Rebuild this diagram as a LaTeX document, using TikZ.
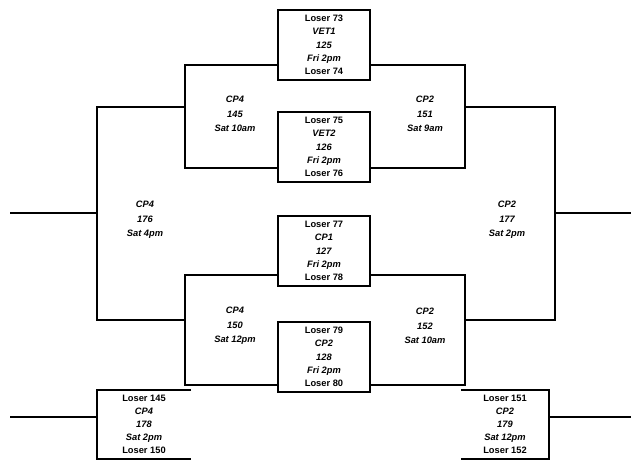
\documentclass[tikz,border=0pt]{standalone}
\usepackage{fontspec}
\setmainfont{Liberation Sans}
\begin{document}
\begin{tikzpicture}[x=1pt, y=-1pt, line width=2pt,
  game/.style={draw, rectangle, minimum width=92pt, minimum height=70pt, align=center, inner sep=0pt, font=\fontsize{9.3}{13.3}\selectfont\bfseries},
  open/.style={rectangle, minimum height=67pt, align=center, inner sep=0pt, font=\fontsize{9.3}{13}\selectfont\bfseries},
  slot/.style={align=center, inner sep=0pt, font=\fontsize{9.3}{14.5}\selectfont\bfseries\itshape}]
\useasboundingbox (0,0) rectangle (631,470);
\node[game] (g125) at (324,45){Loser 73\\ \textit{VET1}\\ \textit{125}\\ \textit{Fri 2pm}\\ Loser 74};
\node[game] (g126) at (324,147){Loser 75\\ \textit{VET2}\\ \textit{126}\\ \textit{Fri 2pm}\\ Loser 76};
\node[game] (g127) at (324,251){Loser 77\\ \textit{CP1}\\ \textit{127}\\ \textit{Fri 2pm}\\ Loser 78};
\node[game] (g128) at (324,357){Loser 79\\ \textit{CP2}\\ \textit{128}\\ \textit{Fri 2pm}\\ Loser 80};
\node[slot] (s145) at (235,114){CP4\\ 145\\ Sat 10am};
\node[slot] (s151) at (425,114){CP2\\ 151\\ Sat 9am};
\node[slot] (s150) at (235,326){CP4\\ 150\\ Sat 12pm};
\node[slot] (s152) at (425,326){CP2\\ 152\\ Sat 10am};
\node[slot] (s176) at (145,220){CP4\\ 176\\ Sat 4pm};
\node[slot] (s177) at (507,220){CP2\\ 177\\ Sat 2pm};
\node[open, minimum width=92pt] (c178) at (144,424){Loser 145\\ \textit{CP4}\\ \textit{178}\\ \textit{Sat 2pm}\\ Loser 150};
\node[open, minimum width=86pt] (c179) at (505,424){Loser 151\\ \textit{CP2}\\ \textit{179}\\ \textit{Sat 12pm}\\ Loser 152};
\coordinate (j145a) at (185,65);
\coordinate (j145b) at (185,168);
\coordinate (j150a) at (185,275);
\coordinate (j150b) at (185,385);
\coordinate (j151a) at (465,65);
\coordinate (j151b) at (465,168);
\coordinate (j152a) at (465,275);
\coordinate (j152b) at (465,385);
\coordinate (j176a) at (97,107);
\coordinate (j176b) at (97,320);
\coordinate (j177a) at (555,107);
\coordinate (j177b) at (555,320);
\coordinate (out176) at (10,213);
\coordinate (out177) at (631,213);
\coordinate (out178) at (10,417);
\coordinate (out179) at (631,417);
\draw[](g125.west |- j145a) -- (j145a) -- (j145b) -- (g126.west |- j145b);
\draw[](g127.west |- j150a) -- (j150a) -- (j150b) -- (g128.west |- j150b);
\draw[](g125.east |- j151a) -- (j151a) -- (j151b) -- (g126.east |- j151b);
\draw[](g127.east |- j152a) -- (j152a) -- (j152b) -- (g128.east |- j152b);
\draw[](j145a |- j176a) -- (j176a) -- (j176b) -- (j150a |- j176b);
\draw[](j151a |- j177a) -- (j177a) -- (j177b) -- (j152a |- j177b);
\draw[](out176) -- (out176 -| j176a);
\draw[](out177) -- (out177 -| j177a);
\draw[](c178.north east) -- (c178.north west) -- (c178.south west) -- (c178.south east);
\draw[](c179.north west) -- (c179.north east) -- (c179.south east) -- (c179.south west);
\draw[](out178) -- (out178 -| c178.west);
\draw[](out179) -- (out179 -| c179.east);
\end{tikzpicture}
\end{document}
